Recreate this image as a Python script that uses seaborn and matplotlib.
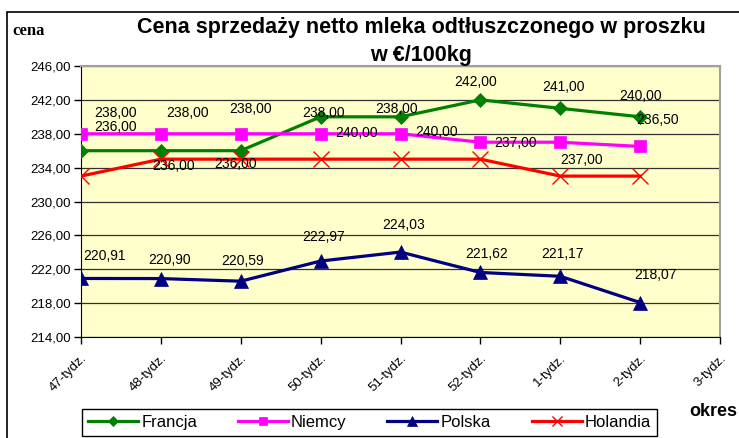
import numpy as np
import pandas as pd
import seaborn as sns
import matplotlib.pyplot as plt
from matplotlib.patches import Rectangle

# dane
tygodnie = ['47-tydz.', '48-tydz.', '49-tydz.', '50-tydz.', '51-tydz.',
            '52-tydz.', '1-tydz.', '2-tydz.', '3-tydz.']
francja = [236.00, 236.00, 236.00, 240.00, 240.00, 242.00, 241.00, 240.00]
niemcy = [238.00, 238.00, 238.00, 238.00, 238.00, 237.00, 237.00, 236.50]
polska = [220.91, 220.90, 220.59, 222.97, 224.03, 221.62, 221.17, 218.07]
holandia = [233.00, 235.00, 235.00, 235.00, 235.00, 235.00, 233.00, 233.00]

# przesuniecia etykiet (piksele: w prawo, w gore)
off_francja = [(35, 24), (13, -15), (-5, -13), (36, -16), (36, -15), (-5, 18), (3, 21), (0, 21)]
off_niemcy = [(35, 21), (27, 21), (10, 25), (3, 21), (-4, 25), (35, -1), (21, -18), (17, 26)]
off_polska = [(23, 22), (9, 19), (2, 20), (3, 24), (3, 27), (6, 18), (2, 22), (15, 28)]

plt.rcParams['font.family'] = ['Liberation Sans', 'DejaVu Sans']

fig = plt.figure(figsize=(7.39, 4.38), dpi=100)
ax = fig.add_axes([81 / 739, 1 - 337 / 438, 639 / 739, 271 / 438])
ax.set_facecolor('#FFFFCC')

poz = np.arange(len(francja))
serie = [
    ('Francja', francja, '#008000', 'D', 7, off_francja),
    ('Niemcy', niemcy, '#FF00FF', 's', 9, off_niemcy),
    ('Polska', polska, '#000080', '^', 10, off_polska),
    ('Holandia', holandia, '#FF0000', 'x', 11, None),
]

for nazwa, wart, kolor, znak, rozm, offs in serie:
    df = pd.DataFrame({'poz': poz, 'cena': wart})
    sns.lineplot(data=df, x='poz', y='cena', ax=ax, color=kolor, marker=znak,
                 markersize=rozm, linewidth=2.3, label=nazwa,
                 markeredgecolor=kolor, markeredgewidth=1 if znak == 'x' else 0.5,
                 zorder=3)
    if offs is not None:
        for x, v, (dx, dy) in zip(poz, wart, offs):
            ax.annotate(f'{v:.2f}'.replace('.', ','), (x, v), xytext=(dx, dy),
                        textcoords='offset pixels', ha='center', va='center',
                        fontsize=10, zorder=4)

ax.set_xlim(0, 8)
ax.set_ylim(214, 246)
yt = np.arange(214, 247, 4)
ax.set_yticks(yt)
ax.set_yticklabels([f'{v:.2f}'.replace('.', ',') for v in yt], fontsize=9.5)
ax.set_xticks(range(len(tygodnie)))
ax.set_xticklabels(tygodnie, rotation=45, ha='right', rotation_mode='anchor',
                   fontsize=9.5)
ax.tick_params(axis='both', length=5, color='black', width=1)
ax.tick_params(axis='x', pad=6)
ax.tick_params(axis='y', pad=2)
ax.yaxis.grid(True, color='#303030', linewidth=0.9)
ax.set_axisbelow(True)
ax.set_xlabel('')
ax.set_ylabel('')
for s in ['left', 'bottom']:
    ax.spines[s].set_color('black')
for s in ['top', 'right']:
    ax.spines[s].set_color('#A0A0A0')
    ax.spines[s].set_linewidth(1.5)

uchwyty, etykiety = ax.get_legend_handles_labels()
if ax.get_legend() is not None:
    ax.get_legend().remove()
leg = fig.legend(uchwyty, etykiety, ncol=4, loc='lower left', mode='expand',
                 bbox_to_anchor=(82 / 739, 2 / 438, 575 / 739, 36 / 438),
                 fontsize=12, handlelength=3.0, handletextpad=0.2,
                 fancybox=False, framealpha=1, edgecolor='black',
                 borderaxespad=0, borderpad=0.35, markerscale=0.7)
leg.get_frame().set_linewidth(1)

fig.text(421 / 739, 1 - 28 / 438, 'Cena sprzedaży netto mleka odtłuszczonego w proszku',
         ha='center', va='center', fontsize=15.5, weight='bold')
fig.text(421 / 739, 1 - 56 / 438, 'w €/100kg', ha='center', va='center',
         fontsize=15.5, weight='bold')
fig.text(12 / 739, 1 - 31 / 438, 'cena', ha='left', va='center', fontsize=12,
         weight='bold', family=['Liberation Serif', 'DejaVu Serif'])
fig.text(737 / 739, 1 - 412 / 438, 'okres', ha='right', va='center', fontsize=13,
         weight='bold')

fig.patches.append(Rectangle((7 / 739, -0.05), 1.1, 1 - 12 / 438 + 0.05,
                             transform=fig.transFigure, fill=False,
                             edgecolor='black', linewidth=1.2))

fig.savefig('out.png', dpi=100)
